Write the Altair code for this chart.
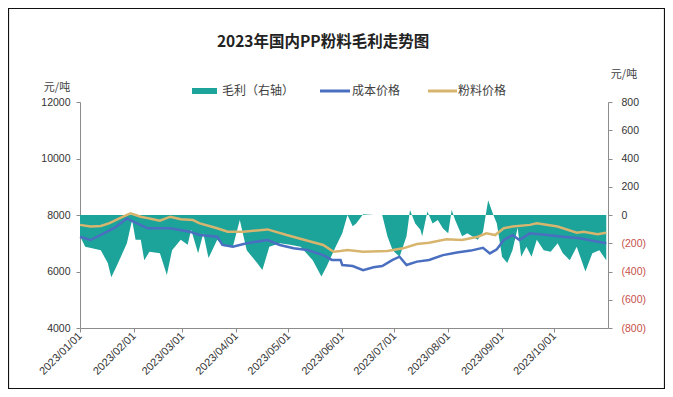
import altair as alt
import pandas as pd

# ---- data ----
price_dates = ["2023/01/01", "2023/01/07", "2023/01/13", "2023/01/18", "2023/01/24", "2023/01/30",
               "2023/02/02", "2023/02/05", "2023/02/09", "2023/02/12", "2023/02/16", "2023/02/22",
               "2023/02/28", "2023/03/07", "2023/03/11", "2023/03/21", "2023/03/27", "2023/04/05",
               "2023/04/19", "2023/04/30", "2023/05/12", "2023/05/21", "2023/05/27", "2023/05/31",
               "2023/06/04", "2023/06/13", "2023/06/27", "2023/07/06", "2023/07/14", "2023/07/21",
               "2023/07/31", "2023/08/09", "2023/08/18", "2023/08/23", "2023/08/28", "2023/09/02",
               "2023/09/07", "2023/09/17", "2023/09/21", "2023/10/03", "2023/10/14", "2023/10/18",
               "2023/10/26", "2023/10/31"]
price_values = [7650, 7590, 7610, 7710, 7890, 8060,
                8000, 7940, 7890, 7850, 7800, 7940,
                7850, 7820, 7705, 7530, 7410, 7410,
                7490, 7290, 7090, 6940, 6700, 6725,
                6760, 6700, 6725, 6820, 6970, 7020,
                7140, 7115, 7230, 7350, 7290, 7530,
                7590, 7650, 7705, 7590, 7375, 7410,
                7320, 7375]

cost_dates = ["2023/01/01", "2023/01/07", "2023/01/13", "2023/01/21", "2023/01/28", "2023/02/01",
              "2023/02/09", "2023/02/22", "2023/03/05", "2023/03/11", "2023/03/21", "2023/03/24",
              "2023/03/30", "2023/04/07", "2023/04/19", "2023/04/26", "2023/05/04", "2023/05/12",
              "2023/05/21", "2023/05/26", "2023/05/31", "2023/06/01", "2023/06/07", "2023/06/13",
              "2023/06/19", "2023/06/24", "2023/06/30", "2023/07/04", "2023/07/08", "2023/07/14",
              "2023/07/21", "2023/07/29", "2023/08/06", "2023/08/14", "2023/08/21", "2023/08/25",
              "2023/08/29", "2023/09/02", "2023/09/07", "2023/09/11", "2023/09/17", "2023/09/27",
              "2023/10/06", "2023/10/16", "2023/10/26", "2023/10/31"]
cost_values = [7230, 7115, 7300, 7550, 7880, 7760,
               7530, 7530, 7410, 7290, 7230, 6940,
               6880, 7000, 7115, 6940, 6820, 6760,
               6580, 6410, 6410, 6230, 6195, 6050,
               6150, 6195, 6410, 6525, 6230, 6350,
               6410, 6580, 6670, 6740, 6840, 6640,
               6785, 7115, 7290, 7115, 7350, 7290,
               7230, 7175, 7055, 7000]

margin_dates = ["2023/01/01", "2023/01/04", "2023/01/08", "2023/01/13", "2023/01/17", "2023/01/19",
                "2023/01/22", "2023/01/28", "2023/01/31", "2023/02/02", "2023/02/05", "2023/02/07",
                "2023/02/10", "2023/02/16", "2023/02/20", "2023/02/23", "2023/02/28", "2023/03/04",
                "2023/03/06", "2023/03/10", "2023/03/13", "2023/03/16", "2023/03/21", "2023/03/24",
                "2023/03/30", "2023/04/03", "2023/04/07", "2023/04/13", "2023/04/16", "2023/04/20",
                "2023/04/26", "2023/05/02", "2023/05/08", "2023/05/15", "2023/05/20", "2023/05/23",
                "2023/05/28", "2023/06/01", "2023/06/04", "2023/06/07", "2023/06/09", "2023/06/13",
                "2023/06/19", "2023/06/24", "2023/06/27", "2023/06/30", "2023/07/04", "2023/07/08",
                "2023/07/10", "2023/07/13", "2023/07/16", "2023/07/17", "2023/07/20", "2023/07/23",
                "2023/07/26", "2023/07/29", "2023/08/01", "2023/08/03", "2023/08/05", "2023/08/09",
                "2023/08/12", "2023/08/18", "2023/08/21", "2023/08/24", "2023/08/27", "2023/08/29",
                "2023/09/01", "2023/09/04", "2023/09/07", "2023/09/10", "2023/09/12", "2023/09/15",
                "2023/09/18", "2023/09/21", "2023/09/25", "2023/09/29", "2023/10/03", "2023/10/06",
                "2023/10/10", "2023/10/14", "2023/10/19", "2023/10/23", "2023/10/27", "2023/10/31"]
margin_values = [-150, -225, -235, -250, -340, -440,
                 -365, -200, -35, -175, -175, -320,
                 -260, -270, -425, -250, -175, -210,
                 -105, -270, -130, -305, -175, -210,
                 -225, -35, -250, -340, -390, -225,
                 -200, -210, -225, -320, -435, -365,
                 -230, -130, 0, -80, -60, 5,
                 0, 0, -150, -250, -295, -150,
                 35, -60, -105, -150, 25, -60,
                 -35, -95, -130, 35, -35, -150,
                 -130, -175, -120, 105, 0, -60,
                 -295, -340, -250, -90, -295, -225,
                 -295, -175, -250, -260, -200, -270,
                 -320, -225, -400, -270, -250, -320]

x_tick_dates = ["2023/01/01", "2023/02/01", "2023/03/01", "2023/04/01", "2023/05/01",
                "2023/06/01", "2023/07/01", "2023/08/01", "2023/09/01", "2023/10/01"]
left_ticks = [4000, 6000, 8000, 10000, 12000]
right_ticks = [-800, -600, -400, -200, 0, 200, 400, 600, 800]

title_text = "2023年国内PP粉料毛利走势图"
legend_labels = ["毛利（右轴）", "成本价格", "粉料价格"]
unit_text = "元/吨"

TEAL = "#1ca39a"
BLUE = "#4a6fc0"
GOLD = "#d8b56e"
AXIS = "#8c8c8c"
LBL = "#333333"

price_df = pd.DataFrame({"date": price_dates, "value": price_values})
cost_df = pd.DataFrame({"date": cost_dates, "value": cost_values})
margin_df = pd.DataFrame({"date": margin_dates, "margin": margin_values})
one = pd.DataFrame({"k": [0]})


def dt(s):
    y, m, d = s.split("/")
    return alt.DateTime(year=int(y), month=int(m), date=int(d))


x_enc = alt.X(
    "date:T",
    scale=alt.Scale(domain=[dt("2023/01/01"), dt("2023/11/01")]),
    axis=alt.Axis(
        values=[dt(s) for s in x_tick_dates], format="%Y/%m/%d", title=None,
        labelAngle=315, labelAlign="right", labelBaseline="middle", labelOverlap=False,
        labelFont="Liberation Sans", labelFontSize=11, labelColor=LBL, labelPadding=2,
        tickSize=4, tickColor=AXIS, domainColor=AXIS, grid=False,
    ),
)

area = alt.Chart(margin_df).mark_area(color=TEAL, opacity=1, interpolate="linear").encode(
    x=x_enc,
    y=alt.Y(
        "margin:Q", stack=None,
        scale=alt.Scale(domain=[-800, 800], nice=False, zero=True),
        axis=alt.Axis(
            orient="right", values=right_ticks, title=None, grid=False,
            labelExpr="datum.value < 0 ? '(' + (-datum.value) + ')' : '' + datum.value",
            labelColor={"condition": {"test": "datum.value < 0", "value": "#c8504a"}, "value": LBL},
            labelFont="Liberation Sans", labelFontSize=10.5, labelPadding=9,
            tickSize=4, tickColor=AXIS, domainColor=AXIS,
        ),
    ),
)

y_left = alt.Y(
    "value:Q",
    scale=alt.Scale(domain=[4000, 12000], nice=False, zero=False),
    axis=alt.Axis(
        orient="left", values=left_ticks, title=None, grid=False, format="d",
        labelFont="Liberation Sans", labelFontSize=10.5, labelColor=LBL, labelPadding=6,
        tickSize=4, tickColor=AXIS, domainColor=AXIS,
    ),
)

cost_line = alt.Chart(cost_df).mark_line(color=BLUE, strokeWidth=2.5).encode(x=x_enc, y=y_left)
price_line = alt.Chart(price_df).mark_line(color=GOLD, strokeWidth=2.5).encode(x=x_enc, y=y_left)
lines = alt.layer(cost_line, price_line)


def label(text, x, y, size=12, weight="normal", align="left", font="Noto Sans CJK SC", color="#404040"):
    return alt.Chart(one).mark_text(
        text=text, fontSize=size, fontWeight=weight, align=align, baseline="middle",
        font=font, color=color,
    ).encode(x=alt.value(x), y=alt.value(y))


title = label(title_text, 243, -60, size=15.5, weight="bold", align="center", color="#222222")
unit_left = label(unit_text, -23, -14, size=11, align="center")
unit_right = label(unit_text, 544, -27, size=11, align="center")

sw_margin = alt.Chart(one).mark_rect(color=TEAL).encode(
    x=alt.value(112), x2=alt.value(137), y=alt.value(-14), y2=alt.value(-8))
sw_cost = alt.Chart(one).mark_rule(color=BLUE, strokeWidth=3).encode(
    x=alt.value(240), x2=alt.value(270), y=alt.value(-11))
sw_price = alt.Chart(one).mark_rule(color=GOLD, strokeWidth=3).encode(
    x=alt.value(348), x2=alt.value(377), y=alt.value(-11))
lg1 = label(legend_labels[0], 142, -11)
lg2 = label(legend_labels[1], 272, -11)
lg3 = label(legend_labels[2], 378, -11)

frame = alt.Chart(one).mark_rect(fill="transparent", stroke="#111111", strokeWidth=1.2).encode(
    x=alt.value(-71.5), x2=alt.value(584.5), y=alt.value(-93.5), y2=alt.value(286.5))

chart = alt.layer(
    area, lines, title, unit_left, unit_right,
    sw_margin, sw_cost, sw_price, lg1, lg2, lg3, frame,
).resolve_scale(y="independent").properties(
    width=528, height=226,
    autosize=alt.AutoSizeParams(type="none"),
    padding={"left": 72, "top": 94, "right": 57, "bottom": 61},
    background="white",
).configure_view(stroke=None)

chart.save("out.html", embed_options={"renderer": "svg", "actions": False})
